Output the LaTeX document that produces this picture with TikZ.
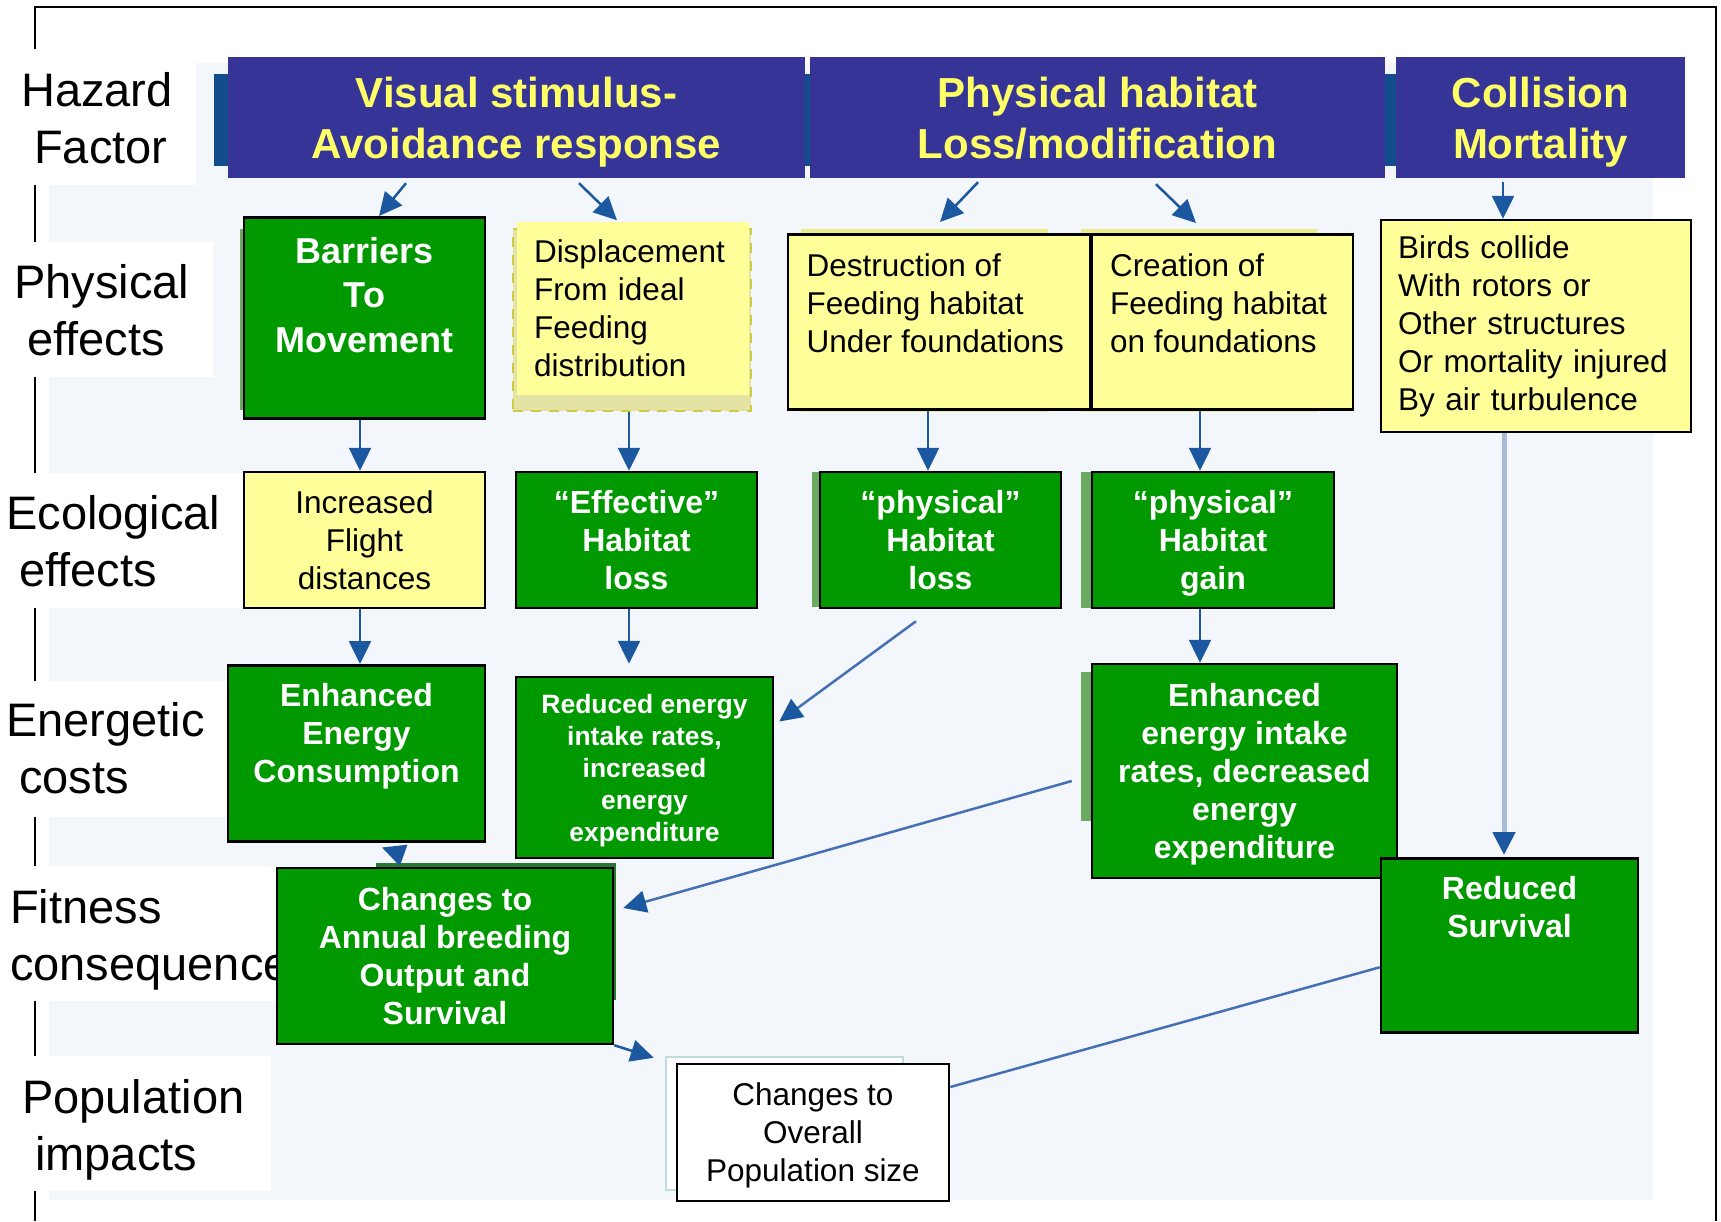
\documentclass[tikz,border=0pt]{standalone}
\usepackage{fontspec}
\setmainfont{Liberation Sans}
\usetikzlibrary{arrows.meta,positioning}
\definecolor{headblue}{RGB}{54,53,151}
\definecolor{headyellow}{RGB}{255,255,102}
\definecolor{barblue}{RGB}{18,78,140}
\definecolor{boxgreen}{RGB}{0,153,0}
\definecolor{shadegreen}{RGB}{106,170,96}
\definecolor{darkshade}{RGB}{40,120,50}
\definecolor{boxyellow}{RGB}{255,255,153}
\definecolor{shadeyellow}{RGB}{236,236,140}
\definecolor{baseyellow}{RGB}{227,227,163}
\definecolor{dashyellow}{RGB}{204,204,70}
\definecolor{panelgrey}{RGB}{243,247,252}
\definecolor{tealshade}{RGB}{190,222,222}
\definecolor{arrowblue}{RGB}{28,88,160}
\definecolor{lineblue}{RGB}{70,112,180}
\definecolor{paleblue}{RGB}{168,186,216}

\begin{document}
\begin{tikzpicture}[x=1pt,y=-1pt,
    rowlabel/.style={anchor=west, align=left, inner sep=0pt, font=\fontsize{47}{57}\selectfont},
    hazard/.style={fill=headblue, text=headyellow, align=center, inner sep=0pt, text depth=0pt,
      minimum height=121pt, font=\bfseries\fontsize{42}{51}\selectfont},
    greenbox/.style={draw=black, line width=2.5pt, fill=boxgreen, text=white, align=center,
      inner sep=0pt, font=\bfseries\fontsize{32}{38}\selectfont},
    yellowbox/.style={draw=black, line width=2.5pt, fill=boxyellow, align=center,
      inner sep=0pt, font=\fontsize{31.5}{38}\selectfont},
    midtext/.style={text depth=0pt},
    flowarrow/.style={draw=arrowblue, line width=2.5pt, -{Triangle[length=23pt,width=22pt]}},
    diagarrow/.style={draw=lineblue, line width=2.5pt, -{Triangle[length=23pt,width=22pt,color=arrowblue]}},
    palearrow/.style={draw=paleblue, line width=5pt, -{Triangle[length=23pt,width=22pt,color=arrowblue]}},
    diagline/.style={draw=lineblue, line width=2.5pt}]
        \useasboundingbox (0,0) rectangle (1721,1221);
        \draw[line width=2pt] (35,1221) -- (35,7) -- (1716,7) -- (1716,1221);
        \fill[panelgrey] (49,63) rectangle (1653,1200);
        \foreach \ya/\yb/\xw in {49/185/196, 242/377/213, 473/608/244, 681/817/229, 866/1001/277, 1056/1191/271}
          \fill[white] (0,\ya) rectangle (\xw,\yb);
        \node[rowlabel] (lhaz) at (21,118) {Hazard\\\hspace*{13pt}Factor};
        \node[rowlabel] (lphys) at (14,310) {Physical\\\hspace*{13pt}effects};
        \node[rowlabel] (leco) at (6,541) {Ecological\\\hspace*{13pt}effects};
        \node[rowlabel] (lener) at (6,748) {Energetic\\\hspace*{13pt}costs};
        \node[rowlabel] (lfit) at (10,939.5) {Fitness\\consequences};
        \node[rowlabel] (lpop) at (22,1130) {Population\\\hspace*{13pt}impacts};
        \fill[barblue] (214,74) rectangle (1396,166);
        \node[hazard, minimum width=577pt] at (516.5,117.5) (vis) {Visual stimulus-\\Avoidance response};
        \node[hazard, minimum width=575pt] at (1097.5,117.5) (phy) {Physical habitat\\Loss/modification};
        \node[hazard, minimum width=289pt] at (1540.5,117.5) (col) {Collision\\Mortality};
        \fill[shadegreen] (240,229) rectangle (246,410);
        \node[fill=baseyellow, draw=dashyellow, line width=2.5pt, dash pattern=on 10pt off 8pt,
          minimum width=238pt, minimum height=182pt] at (632,320) (disbase) {};
        \fill[shadeyellow] (801,229) rectangle (1048,412);
        \fill[shadeyellow] (1081,229) rectangle (1318,412);
        \fill[shadegreen] (812,472) rectangle (830,607);
        \fill[shadegreen] (1081,472) rectangle (1100,608);
        \fill[shadegreen] (1081,672) rectangle (1100,821);
        \fill[darkshade] (376,863) rectangle (616,1000);
        \draw[tealshade, line width=2pt, fill=white] (666,1057) rectangle (903,1190);
        \node[greenbox, anchor=north, inner ysep=20pt, font=\bfseries\fontsize{36}{44.5}\selectfont] at (364.5,216) (bar)
          {\parbox[c][161pt][t]{241pt}{\centering Barriers\\To\\Movement}};
        \node[yellowbox, draw=none, align=left, text width=198pt, inner xsep=17pt, minimum height=173pt] at (633,308) (dis)
          {Displacement\\From ideal\\Feeding\\distribution};
        \node[yellowbox, anchor=north, inner xsep=18.5pt, inner ysep=19pt] at (939,233) (des)
          {\parbox[c][137pt][t]{265pt}{\raggedright Destruction of\\Feeding habitat\\Under foundations}};
        \node[yellowbox, anchor=north, inner xsep=18pt, inner ysep=19pt] at (1222.5,233) (cre)
          {\parbox[c][137pt][t]{225pt}{\raggedright Creation of\\Feeding habitat\\on foundations}};
        \node[yellowbox, align=left, text width=276pt, inner xsep=17pt, minimum height=212pt] at (1536,326) (bir)
          {Birds collide\\With rotors or\\Other structures\\Or mortality injured\\By air turbulence};
        \node[yellowbox, midtext, minimum width=241pt, minimum height=136pt] at (364.5,540) (inc) {Increased\\Flight\\distances};
        \node[greenbox, midtext, minimum width=241pt, minimum height=136pt] at (636.5,540) (eff) {“Effective”\\Habitat\\loss};
        \node[greenbox, midtext, minimum width=241pt, minimum height=136pt] at (940.5,540) (phl) {“physical”\\Habitat\\loss};
        \node[greenbox, midtext, minimum width=242pt, minimum height=136pt] at (1213,540) (phg) {“physical”\\Habitat\\gain};
        \node[greenbox, anchor=north, inner ysep=18pt] at (356.5,664) (eec)
          {\parbox[c][140pt][t]{257pt}{\centering Enhanced\\Energy\\Consumption}};
        \node[greenbox, midtext, minimum width=257pt, minimum height=181pt, font=\bfseries\fontsize{26.5}{32}\selectfont] at (644.5,767.5) (rei)
          {Reduced energy\\intake rates,\\increased\\energy\\expenditure};
        \node[greenbox, midtext, minimum width=305pt, minimum height=214pt] at (1244.5,771) (eei)
          {Enhanced\\energy intake\\rates, decreased\\energy\\expenditure};
        \node[greenbox, midtext, minimum width=336pt, minimum height=176pt] at (445,956) (cha)
          {Changes to\\Annual breeding\\Output and\\Survival};
        \node[greenbox, anchor=north, inner ysep=18pt] at (1509.5,857) (rsv)
          {\parbox[c][138pt][t]{257pt}{\centering Reduced\\Survival}};
        \node[yellowbox, midtext, fill=white, minimum width=272pt, minimum height=137pt] at (813,1132.5) (cov)
          {Changes to\\Overall\\Population size};
        \draw[flowarrow] ([xshift=-110.5pt,yshift=-5pt]vis.south) -- ([xshift=14.5pt]bar.north);
        \draw[flowarrow] ([xshift=62.5pt,yshift=-5pt]vis.south) -- ([xshift=-16pt]dis.north);
        \draw[flowarrow] ([xshift=-119.5pt,yshift=-4pt]phy.south) -- ([xshift=1pt,yshift=11pt]des.north);
        \draw[flowarrow] ([xshift=58.5pt,yshift=-6pt]phy.south) -- ([xshift=-26.5pt,yshift=10pt]cre.north);
        \draw[flowarrow] ([xshift=-37.5pt,yshift=-4pt]col.south) -- ([xshift=-33pt]bir.north);
        \draw[flowarrow] ([xshift=-4.5pt]bar.south) -- ([xshift=-4.5pt]inc.north);
        \draw[flowarrow] ([xshift=-3pt]disbase.south) -- ([xshift=-7.5pt]eff.north);
        \draw[flowarrow] ([xshift=-11pt]des.south) -- ([xshift=-12.5pt]phl.north);
        \draw[flowarrow] ([xshift=-22.5pt]cre.south) -- ([xshift=-13pt]phg.north);
        \draw[flowarrow] ([xshift=-4.5pt]inc.south) -- ([xshift=3.5pt]eec.north);
        \draw[flowarrow] ([xshift=-7.5pt]eff.south) -- ([xshift=-15.5pt,yshift=12pt]rei.north);
        \draw[diagarrow] ([xshift=-24.5pt,yshift=-12pt]phl.south) -- ([xshift=5pt,yshift=46pt]rei.east);
        \draw[flowarrow] ([xshift=-13pt]phg.south) -- ([xshift=-44.5pt]eei.north);
        \draw[palearrow] ([xshift=-32pt]bir.south) -- ([xshift=-5.5pt,yshift=2pt]rsv.north);
        \draw[diagarrow] ([xshift=-19pt,yshift=-10pt]eei.west) -- ([xshift=9pt,yshift=48pt]cha.east);
        \draw[flowarrow] ([xshift=-43pt,yshift=12pt]cha.north) -- ([xshift=25.5pt,yshift=-5pt]eec.south);
        \draw[flowarrow] (cha.south east) -- ([xshift=-22pt,yshift=5pt]cov.north west);
        \draw[diagline] ([yshift=-22pt]rsv.west) -- ([yshift=45.5pt]cov.east);
      \end{tikzpicture}
\end{document}
